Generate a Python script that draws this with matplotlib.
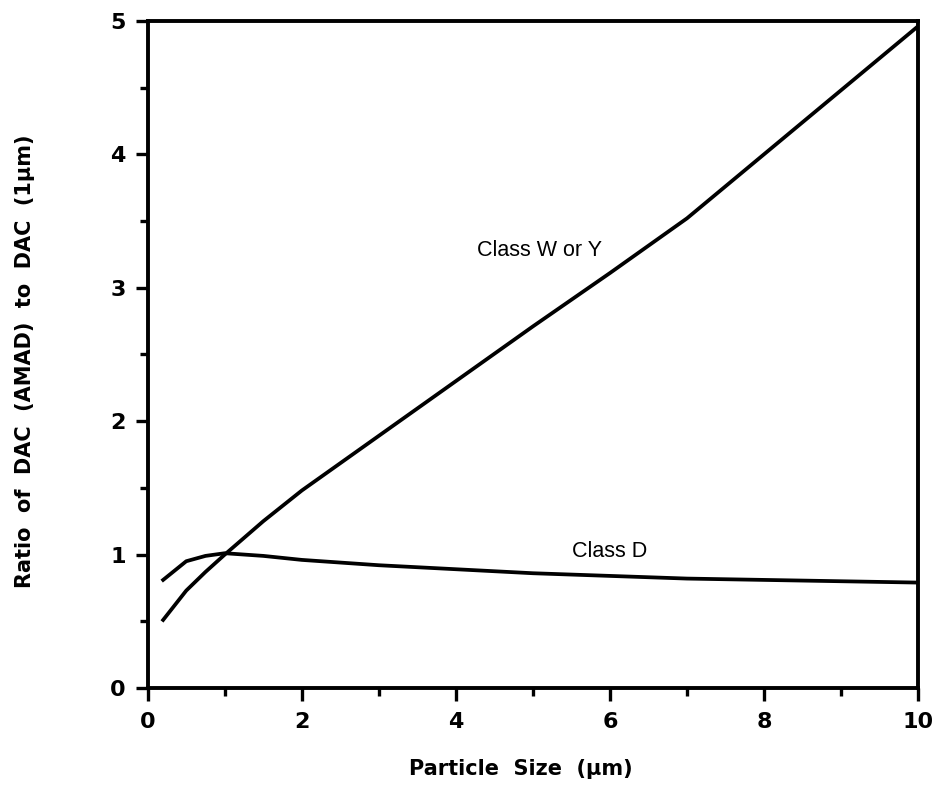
import numpy as np
import matplotlib.pyplot as plt
from matplotlib.ticker import MultipleLocator

plt.rcParams['font.family'] = ['Liberation Sans', 'DejaVu Sans']

# Class W or Y curve
size_wy = [0.2, 0.35, 0.5, 0.75, 1.0, 1.5, 2.0, 3.0, 4.0, 5.0, 6.0, 7.0, 8.0, 9.0, 10.0]
ratio_wy = [0.51, 0.62, 0.73, 0.87, 1.0, 1.25, 1.48, 1.89, 2.30, 2.71, 3.11, 3.52, 4.00, 4.48, 4.96]

# Class D curve
size_d = [0.2, 0.35, 0.5, 0.75, 1.0, 1.5, 2.0, 3.0, 4.0, 5.0, 6.0, 7.0, 8.0, 9.0, 10.0]
ratio_d = [0.81, 0.88, 0.95, 0.99, 1.01, 0.99, 0.96, 0.92, 0.89, 0.86, 0.84, 0.82, 0.81, 0.80, 0.79]

fig = plt.figure(figsize=(9.35, 8), dpi=100)
ax = fig.add_axes([0.158, 0.14, 0.824, 0.834])

ax.plot(size_wy, ratio_wy, color='black', lw=2.7)
ax.plot(size_d, ratio_d, color='black', lw=2.7)

ax.text(5.09, 3.28, 'Class W or Y', fontsize=15.5, ha='center', va='center')
ax.text(6.0, 1.02, 'Class D', fontsize=15.5, ha='center', va='center')

ax.set_xlim(0, 10)
ax.set_ylim(0, 5)
ax.xaxis.set_major_locator(MultipleLocator(2))
ax.xaxis.set_minor_locator(MultipleLocator(1))
ax.yaxis.set_major_locator(MultipleLocator(1))
ax.yaxis.set_minor_locator(MultipleLocator(0.5))

for s in ax.spines.values():
    s.set_linewidth(2.8)
ax.tick_params(which='major', direction='out', length=9, width=2.4, labelsize=16)
ax.tick_params(axis='x', which='major', pad=8)
ax.tick_params(axis='y', which='major', pad=7)
ax.tick_params(which='minor', direction='out', length=6, width=2.4)
for lab in ax.get_xticklabels() + ax.get_yticklabels():
    lab.set_fontweight('bold')
    lab.set_family('DejaVu Sans')

ax.set_xlabel('Particle  Size  (\u00b5m)', fontsize=15, fontweight='bold',
              family='DejaVu Sans')
ax.set_ylabel('Ratio  of  DAC  (AMAD)  to  DAC  (1\u00b5m)', fontsize=15,
              fontweight='bold', family='DejaVu Sans')
ax.xaxis.set_label_coords(0.484, -0.106)
ax.yaxis.set_label_coords(-0.146, 0.489)

fig.savefig('out.png', dpi=100)
